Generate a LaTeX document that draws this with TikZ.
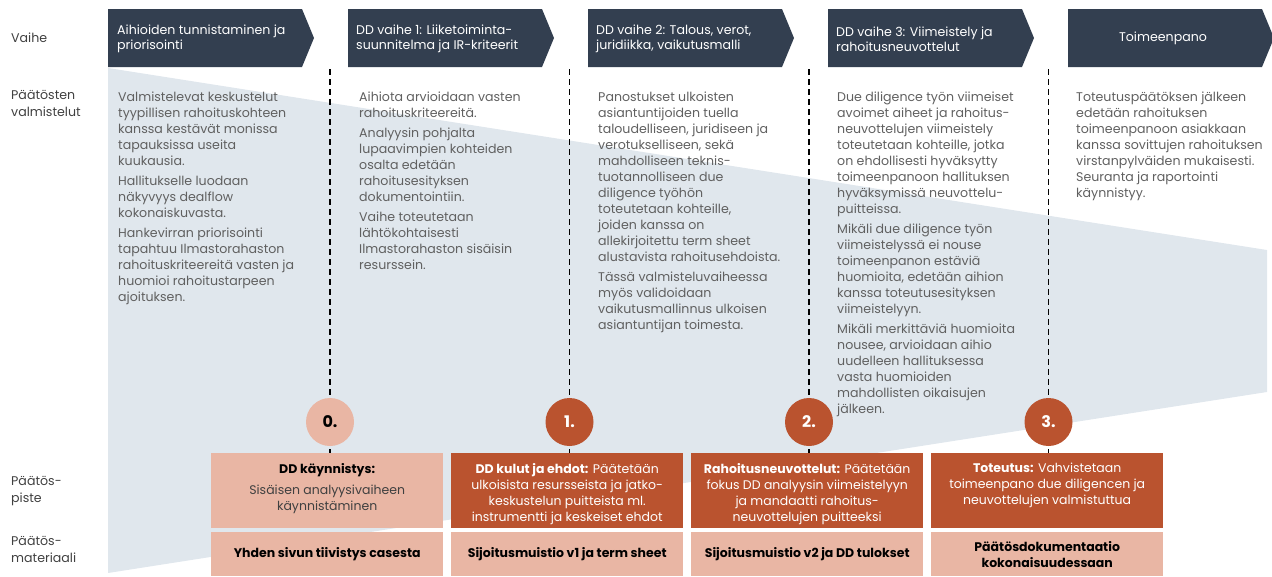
\documentclass[tikz,border=0pt]{standalone}
\IfFileExists{tgadventor.sty}{%
  \usepackage[T1]{fontenc}\usepackage{tgadventor}\renewcommand{\familydefault}{\sfdefault}}{%
  \usepackage{fontspec}\setmainfont{Poppins}}
\definecolor{navy}{HTML}{333F50}
\definecolor{greybg}{HTML}{E0E7ED}
\definecolor{salmon}{HTML}{E9B6A4}
\definecolor{rust}{HTML}{BA532F}
\definecolor{textgrey}{HTML}{606060}
\definecolor{labgrey}{HTML}{404040}
\newcommand{\bodysz}{\fontsize{12.6}{16}\selectfont}
\newcommand{\hdrsz}{\fontsize{12.6}{15}\selectfont}
\newcommand{\labsz}{\fontsize{12.6}{17}\selectfont}
\newcommand{\boxsz}{\fontsize{12.5}{16}\selectfont}
\tikzset{
  hdrtext/.style={text=white, font=\hdrsz, align=left, anchor=west, inner sep=0},
  bodytext/.style={text=textgrey, font=\bodysz, align=left, anchor=north west, inner sep=0},
  labtext/.style={text=labgrey, font=\labsz, align=left, anchor=west, inner sep=0},
  dashln/.style={line width=1.8pt, dash pattern=on 6pt off 4pt, black},
  milestone/.style={circle, minimum size=48pt, inner sep=0, font=\fontsize{16}{18}\selectfont\bfseries},
  decbox/.style={rectangle, minimum width=232pt, minimum height=75pt, inner sep=0, anchor=north west},
  matbox/.style={rectangle, fill=salmon, minimum width=232pt, minimum height=44pt, inner sep=0, anchor=north west,
     font=\boxsz\bfseries, align=center, text=black},
  boxtext/.style={font=\boxsz, align=center, anchor=north, inner sep=0},
}
\begin{document}
\begin{tikzpicture}[x=1pt,y=-1pt]
\useasboundingbox (0,0) rectangle (1272,576);
% background trapezoid
\fill[greybg] (108,68) -- (1267,250) -- (1267,392) -- (108,573) -- cycle;
% header chevrons
\foreach \i in {0,...,4}{
  \pgfmathsetmacro{\xl}{108+240*\i}
  \fill[navy] (\xl,9) -- (\xl+194,9) -- (\xl+206,38) -- (\xl+194,67) -- (\xl,67) -- cycle;
}
\node[hdrtext] (h1) at (117,39) {Aihioiden tunnistaminen ja\\priorisointi};
\node[hdrtext] (h2) at (356,39) {DD vaihe 1: Liiketoiminta-\\suunnitelma ja IR-kriteerit};
\node[hdrtext] (h3) at (596,39) {DD vaihe 2: Talous, verot,\\juridiikka, vaikutusmalli};
\node[hdrtext] (h4) at (836,39) {DD vaihe 3: Viimeistely ja\\rahoitusneuvottelut};
\node[hdrtext, anchor=center] (h5) at (1163,38) {Toimeenpano};
% row labels
\node[labtext] (l1) at (11,38) {Vaihe};
\node[labtext] (l2) at (11,103.5) {Päätösten\\valmistelut};
\node[labtext] (l3) at (11,491) {Päätös-\\piste};
\node[labtext] (l4) at (11,549) {Päätös-\\materiaali};
% column texts
\node[bodytext] (t1) at (118,92) {Valmistelevat keskustelut\\
tyypillisen rahoituskohteen\\
kanssa kestävät monissa\\
tapauksissa useita\\
kuukausia.\\[4pt]
Hallitukselle luodaan\\
näkyvyys dealflow\\
kokonaiskuvasta.\\[4pt]
Hankevirran priorisointi\\
tapahtuu Ilmastorahaston\\
rahoituskriteereitä vasten ja\\
huomioi rahoitustarpeen\\
ajoituksen.};
\node[bodytext] (t2) at (359,92) {Aihiota arvioidaan vasten\\
rahoituskriteereitä.\\[4pt]
Analyysin pohjalta\\
lupaavimpien kohteiden\\
osalta edetään\\
rahoitusesityksen\\
dokumentointiin.\\[4pt]
Vaihe toteutetaan\\
lähtökohtaisesti\\
Ilmastorahaston sisäisin\\
resurssein.};
\node[bodytext] (t3) at (598,92) {Panostukset ulkoisten\\
asiantuntijoiden tuella\\
taloudelliseen, juridiseen ja\\
verotukselliseen, sekä\\
mahdolliseen teknis-\\
tuotannolliseen due\\
diligence työhön\\
toteutetaan kohteille,\\
joiden kanssa on\\
allekirjoitettu term sheet\\
alustavista rahoitusehdoista.\\[4pt]
Tässä valmisteluvaiheessa\\
myös validoidaan\\
vaikutusmallinnus ulkoisen\\
asiantuntijan toimesta.};
\node[bodytext] (t4) at (837,92) {Due diligence työn viimeiset\\
avoimet aiheet ja rahoitus-\\
neuvottelujen viimeistely\\
toteutetaan kohteille, jotka\\
on ehdollisesti hyväksytty\\
toimeenpanoon hallituksen\\
hyväksymissä neuvottelu-\\
puitteissa.\\[4pt]
Mikäli due diligence työn\\
viimeistelyssä ei nouse\\
toimeenpanon estäviä\\
huomioita, edetään aihion\\
kanssa toteutusesityksen\\
viimeistelyyn.\\[4pt]
Mikäli merkittäviä huomioita\\
nousee, arvioidaan aihio\\
uudelleen hallituksessa\\
vasta huomioiden\\
mahdollisten oikaisujen\\
jälkeen.};
\node[bodytext] (t5) at (1076,92) {Toteutuspäätöksen jälkeen\\
edetään rahoituksen\\
toimeenpanoon asiakkaan\\
kanssa sovittujen rahoituksen\\
virstanpylväiden mukaisesti.\\
Seuranta ja raportointi\\
käynnistyy.};
% decision boxes
\node[decbox, fill=salmon] (b1) at (211,453) {};
\node[decbox, fill=rust] (b2) at (451,453) {};
\node[decbox, fill=rust] (b3) at (691,453) {};
\node[decbox, fill=rust] (b4) at (931,453) {};
% material boxes
\node[matbox] (m1) at (211,532) {Yhden sivun tiivistys casesta};
\node[matbox] (m2) at (451,532) {Sijoitusmuistio v1 ja term sheet};
\node[matbox] (m3) at (691,532) {Sijoitusmuistio v2 ja DD tulokset};
\node[matbox] (m4) at (931,532) {Päätösdokumentaatio\\kokonaisuudessaan};
% box texts
\node[boxtext, text=black] (bt1) at ([yshift=-10pt]b1.north) {\textbf{DD käynnistys:}\\[5pt]{\color{labgrey}Sisäisen analyysivaiheen}\\{\color{labgrey}käynnistäminen}};
\node[boxtext, text=white] (bt2) at ([yshift=-10pt]b2.north) {\textbf{DD kulut ja ehdot:} Päätetään\\ulkoisista resursseista ja jatko-\\keskustelun puitteista ml.\\instrumentti ja keskeiset ehdot};
\node[boxtext, text=white] (bt3) at ([yshift=-10pt]b3.north) {\textbf{Rahoitusneuvottelut:} Päätetään\\fokus DD analyysin viimeistelyyn\\ja mandaatti rahoitus-\\neuvottelujen puitteeksi};
\node[boxtext, text=white] (bt4) at ([yshift=-10pt]b4.north) {\textbf{Toteutus:} Vahvistetaan\\toimeenpano due diligencen ja\\neuvottelujen valmistuttua};
% dashed timelines
\coordinate (d0) at (330,69);
\coordinate (d1) at (569.5,69);
\coordinate (d2) at (809,69);
\coordinate (d3) at (1048.5,69);
\draw[dashln] (d0) -- (d0 |- b1.north);
\draw[dashln] (d1) -- (d1 |- b2.north);
\draw[dashln] (d2) -- (d2 |- b3.north);
\draw[dashln] (d3) -- (d3 |- b4.north);
% milestones
\node[milestone, fill=salmon, text=black] (c0) at (330,422) {0.};
\node[milestone, fill=rust, text=white] (c1) at (569.5,422) {1.};
\node[milestone, fill=rust, text=white] (c2) at (809,422) {2.};
\node[milestone, fill=rust, text=white] (c3) at (1048.5,422) {3.};
\end{tikzpicture}
\end{document}
